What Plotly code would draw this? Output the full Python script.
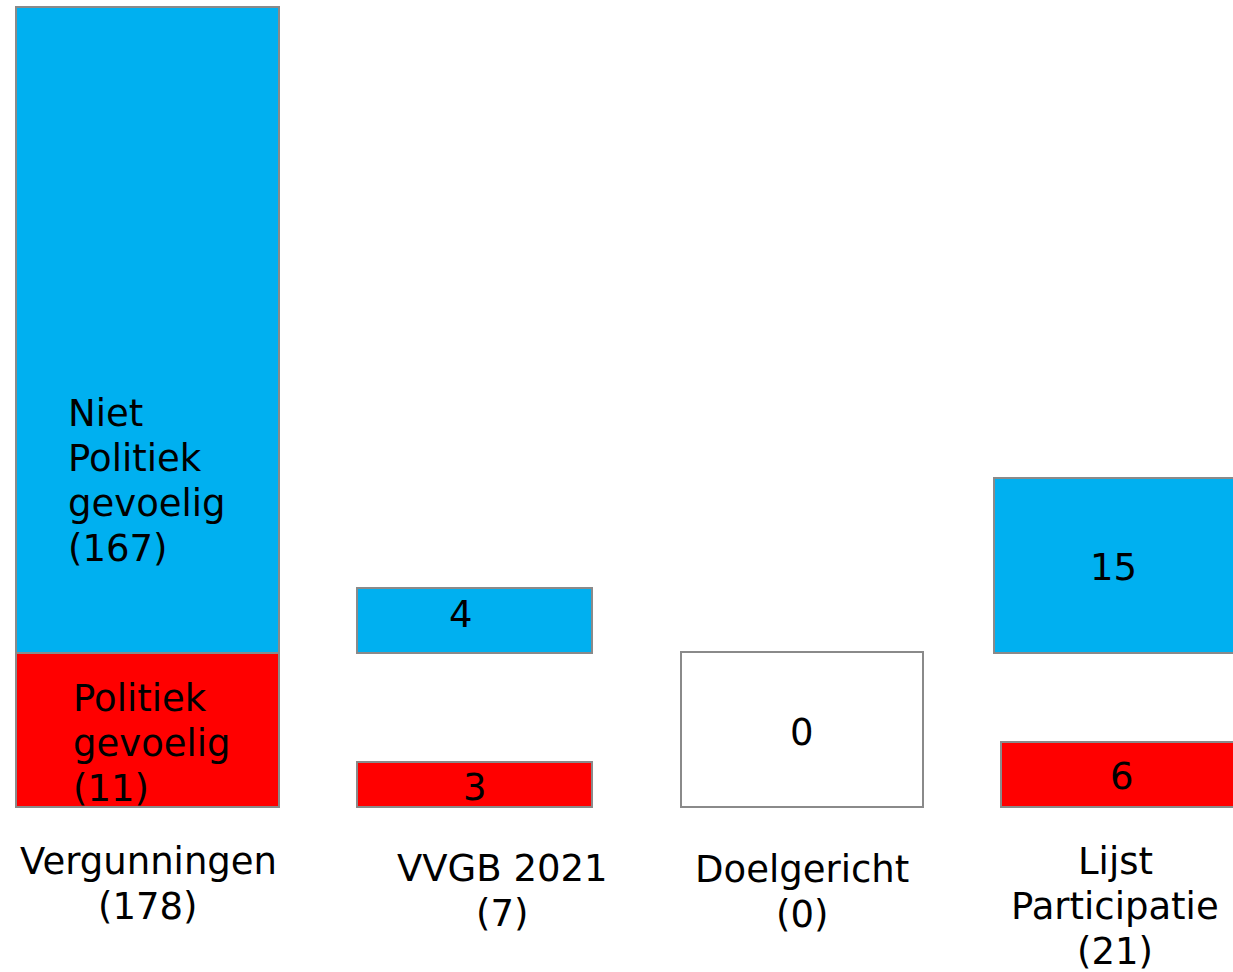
import plotly.graph_objects as go

# ---- data ----
categories = ["Vergunningen", "VVGB 2021", "Doelgericht", "Lijst Participatie"]
totals = [178, 7, 0, 21]
niet_politiek = [167, 4, None, 15]
politiek = [11, 3, None, 6]

W, H = 1233, 972
blue_left = [16, 357, None, 994]
blue_right = [279, 592, None, 1245]
blue_top = [7, 588, None, 478]
red_left = [16, 357, None, 1001]
red_right = [279, 592, None, 1245]
red_top = [653, 762, None, 742]
mid_line = 653
base_line = 807
empty_left, empty_right, empty_top = 681, 923, 652

BLUE = "#00B0F0"
RED = "#FF0000"
EDGE = "#8A8A8A"
FONT = "DejaVu Sans"
FS = 37
LINE = 45

fig = go.Figure()

def add_boxes(lefts, rights, tops, bottom, color):
    xs, ws, bs, hs = [], [], [], []
    for l, r, t in zip(lefts, rights, tops):
        if l is None:
            continue
        xs.append((l + r) / 2)
        ws.append(r - l)
        bs.append(t)
        hs.append(bottom - t)
    fig.add_trace(go.Bar(x=xs, width=ws, base=bs, y=hs,
                         marker=dict(color=color, line=dict(color=EDGE, width=2)),
                         hoverinfo="skip", showlegend=False))

add_boxes(blue_left, blue_right, blue_top, mid_line, BLUE)
add_boxes(red_left, red_right, red_top, base_line, RED)
add_boxes([empty_left], [empty_right], [empty_top], base_line, "white")

ann = []
def txt(x, y, lines, xanchor="center"):
    for i, s in enumerate(lines):
        ann.append(dict(x=x, y=y + i * LINE, xref="x", yref="y", text=s, showarrow=False,
                        xanchor=xanchor, yanchor="middle",
                        font=dict(family=FONT, size=FS, color="black")))

# labels inside the first bar
txt(66, 413, ["Niet", "Politiek", "gevoelig", f"({niet_politiek[0]})"], "left")
txt(71, 698, ["Politiek", "gevoelig", f"({politiek[0]})"], "left")
# values in other boxes
txt(461, 614, [str(niet_politiek[1])])
txt(475, 787, [str(politiek[1])])
txt(802, 732, [str(totals[2])])
txt(1113, 567, [str(niet_politiek[3])])
txt(1122, 776, [str(politiek[3])])
# category labels
cat_x = [148, 502, 802, 1115]
cat_y = [861, 868, 869, 861]
cat_lines = [["Vergunningen"], ["VVGB 2021"], ["Doelgericht"], ["Lijst", "Participatie"]]
for lines, t, x, y in zip(cat_lines, totals, cat_x, cat_y):
    txt(x, y, lines + [f"({t})"])

fig.update_layout(
    width=W, height=H,
    margin=dict(l=0, r=0, t=0, b=0),
    paper_bgcolor="white", plot_bgcolor="white",
    barmode="overlay", bargap=0,
    xaxis=dict(range=[0, W], visible=False, fixedrange=True),
    yaxis=dict(range=[H, 0], visible=False, fixedrange=True),
    annotations=ann,
    showlegend=False,
)

fig.write_html("out.html", config={"displayModeBar": False},
               post_script="document.body.style.margin='0';document.body.style.overflow='hidden';")
